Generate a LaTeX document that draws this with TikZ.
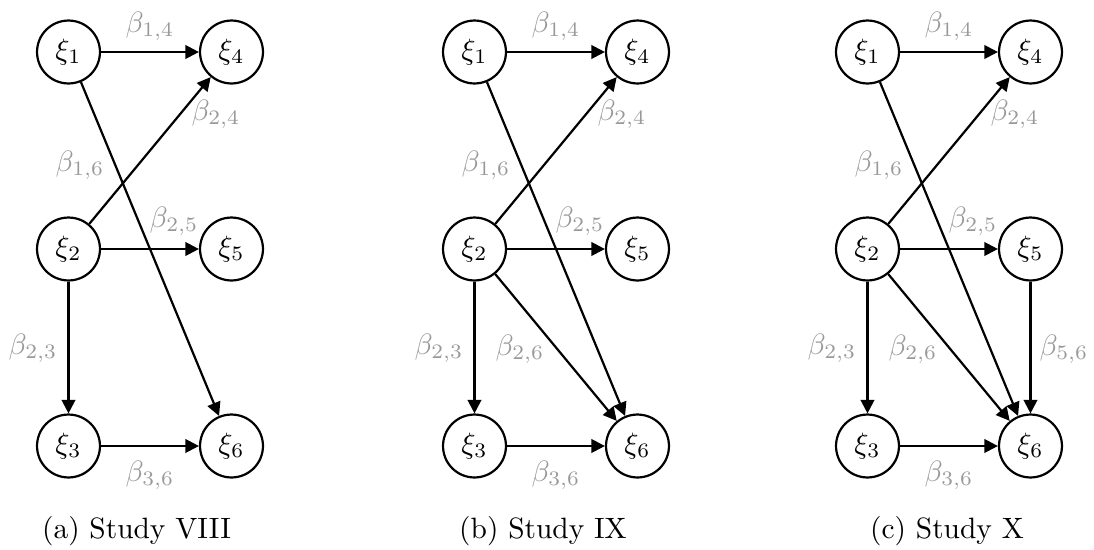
\documentclass[tikz,border=0pt]{standalone}
\usetikzlibrary{arrows.meta}
\tikzset{
  var/.style={draw, circle, line width=0.75pt, minimum size=21.4pt, inner sep=0pt},
  link/.style={line width=0.75pt, -{Triangle[length=4.6pt,width=4.6pt]}},
  coef/.style={text=black!40, inner sep=0pt},
  captext/.style={inner sep=0pt}
}
\newcommand{\mygraph}[1]{%
  \node[var] (#1x1) at (68.5,52) {$\xi_1$};
  \node[var] (#1x4) at (231.5,52) {$\xi_4$};
  \node[var] (#1x2) at (68.5,249) {$\xi_2$};
  \node[var] (#1x5) at (231.5,249) {$\xi_5$};
  \node[var] (#1x3) at (68.5,446) {$\xi_3$};
  \node[var] (#1x6) at (231.5,446) {$\xi_6$};
  \draw[link] (#1x1) -- (#1x4);
  \draw[link] (#1x2) -- (#1x4);
  \draw[link] (#1x1) -- (#1x6);
  \draw[link] (#1x2) -- (#1x5);
  \draw[link] (#1x2) -- (#1x3);
  \draw[link] (#1x3) -- (#1x6);
  \node[coef] (#1b14) at (150,26) {$\beta_{1,4}$};
  \node[coef] (#1b24) at (216,114) {$\beta_{2,4}$};
  \node[coef] (#1b16) at (80,165) {$\beta_{1,6}$};
  \node[coef] (#1b25) at (174,221) {$\beta_{2,5}$};
  \node[coef] (#1b23) at (33,348) {$\beta_{2,3}$};
  \node[coef] (#1b36) at (150,475) {$\beta_{3,6}$};
}
\begin{document}
\begin{tikzpicture}[x=0.34pt, y=-0.34pt]
  \useasboundingbox (0,0) rectangle (1094,550);
  % (a)
  \begin{scope}
    \mygraph{a}
  \end{scope}
  \node[captext] (capa) at (136.5,531) {(a) Study VIII};
  % (b)
  \begin{scope}[xshift=406*0.34pt]
    \mygraph{b}
    \draw[link] (bx2) -- (bx6);
    \node[coef] (bb26) at (114,349) {$\beta_{2,6}$};
  \end{scope}
  \node[captext] (capb) at (543,531) {(b) Study IX};
  % (c)
  \begin{scope}[xshift=799*0.34pt]
    \mygraph{c}
    \draw[link] (cx2) -- (cx6);
    \draw[link] (cx5) -- (cx6);
    \node[coef] (cb26) at (114,349) {$\beta_{2,6}$};
    \node[coef] (cb56) at (265,349) {$\beta_{5,6}$};
  \end{scope}
  \node[captext] (capc) at (947,531) {(c) Study X};
\end{tikzpicture}
\end{document}
